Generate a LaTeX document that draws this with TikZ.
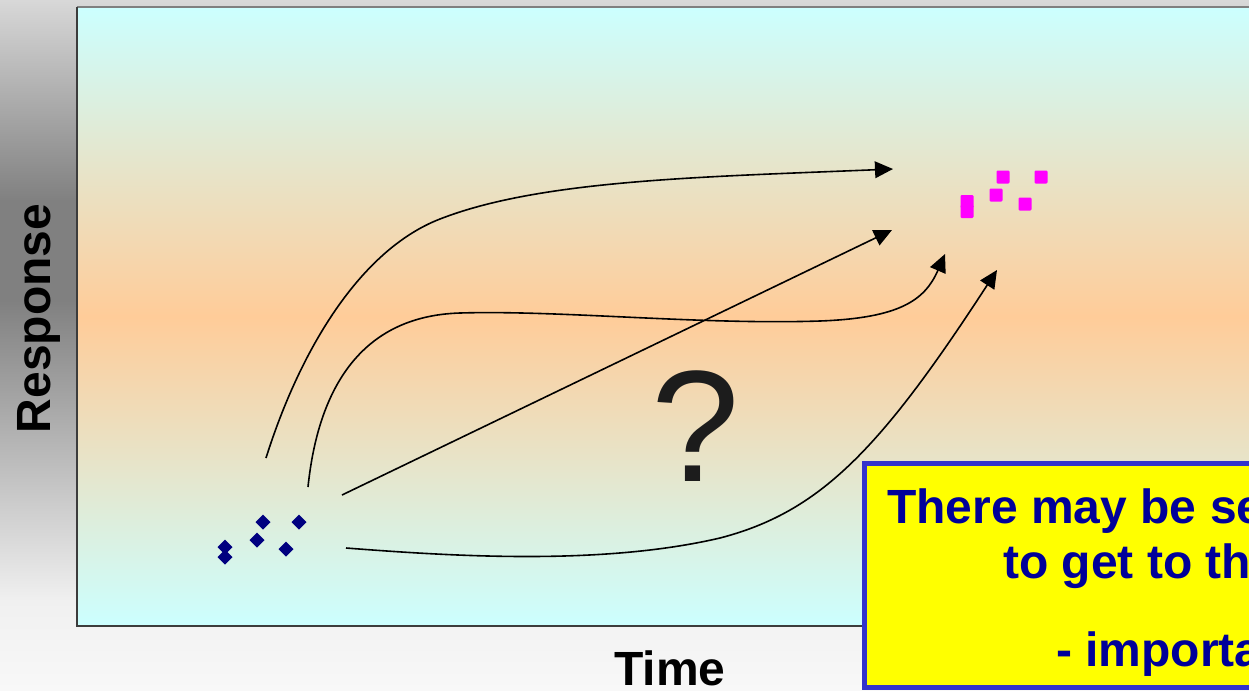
\documentclass[tikz,border=0pt]{standalone}
\usepackage{fontspec}
\setmainfont{Liberation Sans}
\usetikzlibrary{arrows.meta}
\definecolor{bgtop}{HTML}{D8D8D8}
\definecolor{bgdark}{HTML}{808080}
\definecolor{bglight}{HTML}{F0F0F0}
\definecolor{bgbot}{HTML}{F8F8F8}
\definecolor{plotcyan}{HTML}{CCFFFF}
\definecolor{plotpeach}{HTML}{FFCC99}
\definecolor{framegray}{HTML}{7F7F7F}
\definecolor{framedark}{HTML}{3C3C3C}
\definecolor{navymark}{HTML}{000080}
\definecolor{pinkmark}{HTML}{FF00FF}
\definecolor{boxyellow}{HTML}{FFFF00}
\definecolor{boxblue}{HTML}{3333CC}
\definecolor{boxtext}{HTML}{000099}
\definecolor{qcol}{HTML}{1C1C1C}
\tikzset{
  pathline/.style={line width=1.2pt, black, -{Triangle[length=13.5pt,width=12.5pt]}},
  bigbold/.style={font=\fontsize{36}{36}\selectfont\bfseries, inner sep=0pt},
  boxline/.style={bigbold, text=boxtext, anchor=base west},
  diamondmark/.style={fill=navymark},
  squaremark/.style={fill=pinkmark, rounded corners=0.8pt}
}
\newcommand{\dmark}[2]{\fill[diamondmark] (#1-7.5,#2) -- (#1,#2-7.5) -- (#1+7.5,#2) -- (#1,#2+7.5) -- cycle;}
\newcommand{\smark}[2]{\fill[squaremark] (#1-6.5,#2-6.5) rectangle (#1+6.5,#2+6.5);}
\begin{document}
\begin{tikzpicture}[x=0.75pt,y=-0.75pt]
\useasboundingbox (0,0) rectangle (1249,690);
% slide background
\fill[top color=bgtop, bottom color=bgdark] (0,0) rectangle (1249,201);
\fill[bgdark] (0,200) rectangle (1249,301);
\fill[top color=bgdark, bottom color=bglight] (0,300) rectangle (1249,601);
\fill[top color=bglight, bottom color=bgbot] (0,600) rectangle (1249,690);
% plot area
\fill[top color=plotcyan, bottom color=plotcyan, middle color=plotpeach] (77,7) rectangle (1260,626);
\draw[framegray, line width=1.5pt] (77,7) -- (1260,7);
\draw[framedark, line width=1.5pt] (77,7) -- (77,626) -- (1260,626);
% markers
\dmark{263}{522}
\dmark{299}{522}
\dmark{257}{540}
\dmark{286}{549}
\dmark{225}{547}
\dmark{225}{557}
\smark{1003}{177}
\smark{1041}{177}
\smark{996}{195}
\smark{1025}{204}
\smark{967}{201.5}
\smark{967}{211.5}
% connector end points
\coordinate (s1) at (266,458);
\coordinate (e1) at (893,169);
\coordinate (s2) at (308,487);
\coordinate (e2) at (945,254);
\coordinate (s3) at (342,495);
\coordinate (e3) at (892,230);
\coordinate (s4) at (346,548);
\coordinate (e4) at (997,270);
% paths
\draw[pathline] (s1) .. controls (300,350) and (360,250) .. (440,219) .. controls (540,180) and (700,177) .. (e1);
\draw[pathline] (s2) .. controls (318,390) and (360,316) .. (460,313) .. controls (560,310) and (700,325) .. (820,321) .. controls (900,318) and (925,300) .. (e2);
\draw[pathline] (s3) -- (e3);
\draw[pathline] (s4) .. controls (450,556) and (600,566) .. (720,538) .. controls (820,512) and (880,450) .. (e4);
% question mark
\node[font=\fontsize{119}{119}\selectfont, text=qcol, anchor=base, inner sep=0pt] (qm) at (696,481) {?};
% note box
\draw[fill=boxyellow, draw=boxblue, line width=3.75pt] (864.5,463.5) rectangle (1270,687.5);
\node[boxline] (l1) at (887,523) {There may be se};
\node[boxline] (l2) at (1003,578) {to get to th};
\node[boxline] (l3) at (1056,666) {- importa};
% axis labels
\node[bigbold, anchor=base west] (tl) at (614,685) {Time};
\node[bigbold, anchor=base, rotate=90] (rl) at (50,318.5) {Response};
\end{tikzpicture}
\end{document}
